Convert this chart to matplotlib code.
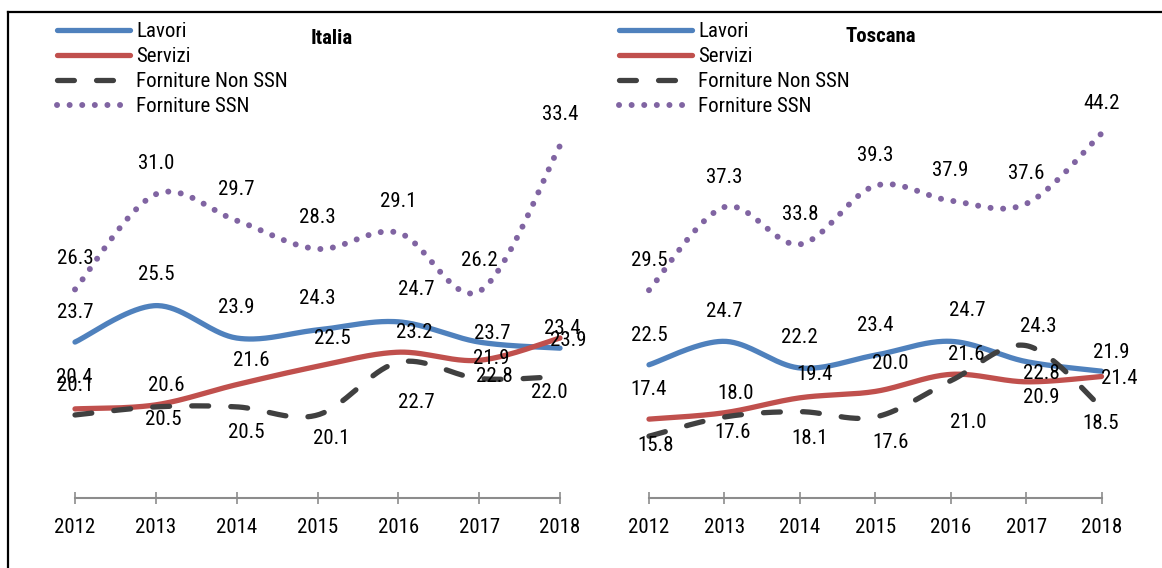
"""
plot.py

Smoothed line chart of four procurement categories (Lavori, Servizi,
Forniture Non SSN, Forniture SSN) for Italia and Toscana, 2012-2018.
"""

import matplotlib
matplotlib.use('Agg')
import matplotlib.pyplot as plt
from matplotlib import font_manager as fm
from matplotlib.lines import Line2D
import numpy as np


# ==============================================================================
# Data
# ==============================================================================

YEARS = ['2012', '2013', '2014', '2015', '2016', '2017', '2018']
SERIES_NAMES = ['Lavori', 'Servizi', 'Forniture Non SSN', 'Forniture SSN']

ITALIA_LAVORI = [23.7, 25.5, 23.9, 24.3, 24.7, 23.7, 23.4]
ITALIA_SERVIZI = [20.4, 20.6, 21.6, 22.5, 23.2, 22.8, 23.9]
ITALIA_NON_SSN = [20.1, 20.5, 20.5, 20.1, 22.7, 21.9, 22.0]
ITALIA_SSN = [26.3, 31.0, 29.7, 28.3, 29.1, 26.2, 33.4]

TOSCANA_LAVORI = [22.5, 24.7, 22.2, 23.4, 24.7, 22.8, 21.9]
TOSCANA_SERVIZI = [17.4, 18.0, 19.4, 20.0, 21.6, 20.9, 21.4]
TOSCANA_NON_SSN = [15.8, 17.6, 18.1, 17.6, 21.0, 24.3, 18.5]
TOSCANA_SSN = [29.5, 37.3, 33.8, 39.3, 37.9, 37.6, 44.2]


# ==============================================================================
# Font: the original uses a narrow sans (Arial Narrow); pick one if present
# ==============================================================================

def pick_font():
    entries = fm.fontManager.ttflist
    names = {f.name for f in entries}
    for name in ['Liberation Sans Narrow', 'Arial Narrow', 'Roboto Condensed',
                 'Open Sans Condensed', 'Noto Sans Condensed',
                 'DejaVu Sans Condensed', 'Noto Sans Display']:
        if name in names:
            return name, 'normal', 15
    for fam in ['Roboto', 'Noto Sans', 'Open Sans', 'Liberation Sans', 'DejaVu Sans']:
        for f in entries:
            if f.name == fam and str(f.stretch) in ('condensed', 'semi-condensed',
                                                    'extra-condensed'):
                return fam, f.stretch, 15
    return 'Liberation Sans', 'normal', 13.5


FONT_NAME, FONT_STRETCH, FONT_SIZE = pick_font()
plt.rcParams['font.family'] = [FONT_NAME, 'DejaVu Sans']
plt.rcParams['font.stretch'] = FONT_STRETCH


# ==============================================================================
# Styles and layout
# ==============================================================================

STYLES = [
    dict(color='#4F81BD', linestyle='-', lw=3.8, solid_capstyle='round'),
    dict(color='#C0504D', linestyle='-', lw=3.8, solid_capstyle='round'),
    dict(color='#404040', linestyle=(0, (3.2, 4.2)), lw=3.8, dash_capstyle='round'),
    dict(color='#8064A2', linestyle=(0, (0.01, 2.1)), lw=4.3, dash_capstyle='round'),
]

# label offsets in pixels (dx right, dy down), one list per series
ITALIA_OFFSETS = [
    [(0, -30), (0, -31), (0, -31), (0, -31), (18, -32), (13, -9), (2, -20)],
    [(-1, -31), (10, -19), (15, -24), (15, -28), (16, -20), (15, 16), (8, 2)],
    [(0, -29), (7, 13), (10, 26), (14, 24), (18, 40), (12, -20), (-11, 16)],
    [(0, -31)] * 7,
]
TOSCANA_OFFSETS = [
    [(0, -29), (0, -30), (0, -30), (0, -30), (17, -31), (15, 12), (10, -19)],
    [(0, -30), (11, -19), (15, -23), (15, -28), (16, -20), (15, 16), (18, 2)],
    [(7, 9), (8, 15), (10, 27), (15, 26), (18, 42), (12, -19), (-1, 16)],
    [(0, -30)] * 7,
]


# ==============================================================================
# Helpers
# ==============================================================================

def smooth_curve(values, steps=40):
    """Catmull-Rom style bezier smoothing through every point (like Excel)."""
    y = np.asarray(values, dtype=float)
    x = np.arange(len(y), dtype=float)
    px = np.concatenate([[x[0]], x, [x[-1]]])
    py = np.concatenate([[y[0]], y, [y[-1]]])
    t = np.linspace(0, 1, steps)
    xs, ys = [], []
    for i in range(len(y) - 1):
        p0 = np.array([px[i], py[i]])
        p1 = np.array([px[i + 1], py[i + 1]])
        p2 = np.array([px[i + 2], py[i + 2]])
        p3 = np.array([px[i + 3], py[i + 3]])
        c1 = p1 + (p2 - p0) / 6
        c2 = p2 - (p3 - p1) / 6
        pts = ((1 - t) ** 3)[:, None] * p1 + (3 * (1 - t) ** 2 * t)[:, None] * c1 \
            + (3 * (1 - t) * t ** 2)[:, None] * c2 + (t ** 3)[:, None] * p2
        xs.extend(pts[:, 0])
        ys.extend(pts[:, 1])
    return xs, ys


def draw_panel(ax, series, offsets, title, ylim, title_xy):
    for values, style, name, offs in zip(series, STYLES, SERIES_NAMES, offsets):
        xs, ys = smooth_curve(values)
        ax.plot(xs, ys, label=name, clip_on=False, **style)
        for i, v in enumerate(values):
            ax.annotate(f'{v:.1f}', (i, v), xytext=(offs[i][0], -offs[i][1]),
                        textcoords='offset pixels', ha='center', va='center',
                        fontsize=FONT_SIZE, zorder=5, annotation_clip=False)

    ax.set_xlim(0, len(YEARS) - 1)
    ax.set_ylim(*ylim)
    ax.set_xticks(range(len(YEARS)))
    ax.set_xticklabels(YEARS, fontsize=FONT_SIZE)
    ax.tick_params(axis='x', direction='inout', length=8.6, width=1.2,
                   color='#8C8C8C', pad=10)
    ax.set_yticks([])
    for side in ['top', 'right', 'left']:
        ax.spines[side].set_visible(False)
    ax.spines['bottom'].set_color('#8C8C8C')
    ax.spines['bottom'].set_linewidth(1.5)
    ax.patch.set_alpha(0)

    fig = ax.figure
    fig.text(title_xy[0] / 1162, 1 - title_xy[1] / 568, title,
             ha='center', va='center', fontsize=FONT_SIZE, fontweight='bold')


# ==============================================================================
# Figure
# ==============================================================================

fig = plt.figure(figsize=(11.62, 5.68), dpi=100)

ax_it = fig.add_axes([75 / 1162, 70 / 568, 485 / 1162, 486 / 568])
ax_to = fig.add_axes([649 / 1162, 70 / 568, 452.5 / 1162, 486 / 568])

draw_panel(ax_it, [ITALIA_LAVORI, ITALIA_SERVIZI, ITALIA_NON_SSN, ITALIA_SSN],
           ITALIA_OFFSETS, 'Italia', (16, 40), (332, 38))
draw_panel(ax_to, [TOSCANA_LAVORI, TOSCANA_SERVIZI, TOSCANA_NON_SSN, TOSCANA_SSN],
           TOSCANA_OFFSETS, 'Toscana', (10, 55.6), (881, 36))

for ax, left in [(ax_it, 57), (ax_to, 619)]:
    ax.legend(loc='upper left', bbox_to_anchor=(left / 1162, 1 - 22 / 568),
              bbox_transform=fig.transFigure, frameon=False, fontsize=FONT_SIZE,
              handlelength=3.5, handletextpad=0.3, labelspacing=0.29,
              borderpad=0, borderaxespad=0)

# outer frame (top and left edges only)
fig.add_artist(Line2D([8 / 1162, 1], [1 - 12 / 568, 1 - 12 / 568],
                      color='black', lw=1.6, transform=fig.transFigure))
fig.add_artist(Line2D([8 / 1162, 8 / 1162], [0, 1 - 12 / 568],
                      color='black', lw=1.6, transform=fig.transFigure))

fig.savefig('out.png', dpi=100)
plt.close(fig)
